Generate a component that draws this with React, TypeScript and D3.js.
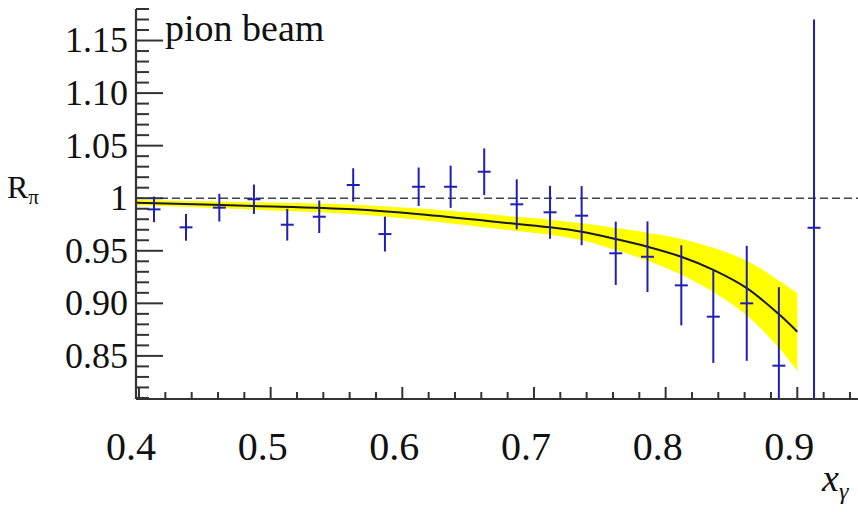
import React, { useEffect, useRef } from "react";
import * as d3 from "d3";

// measured points (x_gamma, R_pi, stat error)
const xVals = [0.4114, 0.4357, 0.461, 0.4873, 0.5126, 0.5369, 0.5627, 0.5868, 0.6124, 0.6367, 0.6622, 0.6869, 0.7122, 0.7362, 0.7621, 0.7862, 0.8119, 0.8362, 0.8616, 0.886, 0.9127];
const rVals = [0.9894, 0.9723, 0.991, 0.999, 0.9748, 0.9824, 1.0126, 0.9659, 1.0109, 1.0109, 1.0252, 0.9942, 0.9866, 0.9834, 0.9476, 0.9443, 0.9171, 0.8873, 0.9, 0.8407, 0.9719];
const rErrs = [0.0122, 0.0127, 0.0132, 0.014, 0.0151, 0.0155, 0.0159, 0.0166, 0.0183, 0.0201, 0.0222, 0.0238, 0.0252, 0.0281, 0.0301, 0.0336, 0.0381, 0.044, 0.0547, 0.0746, 0.1982];

// fit curve and its uncertainty band
const fitX = [0.3977, 0.4873, 0.5625, 0.6134, 0.6869, 0.7122, 0.7362, 0.7621, 0.7862, 0.8119, 0.8362, 0.8616, 0.8859, 0.9];
const fitY = [0.9957, 0.9926, 0.9894, 0.9847, 0.9755, 0.9723, 0.9681, 0.9612, 0.9539, 0.9443, 0.9318, 0.9145, 0.8898, 0.873];
const fitErr = [0.0025, 0.0035, 0.0045, 0.0055, 0.0068, 0.0072, 0.008, 0.0104, 0.0133, 0.017, 0.021, 0.026, 0.032, 0.037];

const yTicks = [0.85, 0.9, 0.95, 1, 1.05, 1.1, 1.15];
const yTickLabels = ["0.85", "0.90", "0.95", "1", "1.05", "1.10", "1.15"];
const xTicks = [0.4, 0.5, 0.6, 0.7, 0.8, 0.9];
const xTickLabels = ["0.4", "0.5", "0.6", "0.7", "0.8", "0.9"];

const W = 858;
const H = 512;
const FONT = "Liberation Serif, Times New Roman, Times, DejaVu Serif, Noto Serif, serif";

export default function App() {
  const svgRef = useRef<SVGSVGElement>(null);

  useEffect(() => {
    const svg = d3.select(svgRef.current);
    svg.selectAll("*").remove();

    const x = d3.scaleLinear().domain([0.4, 0.9]).range([139, 797.3]);
    const y = d3.scaleLinear().domain([0.809, 1.18]).range([399, 9]);
    const left = 136;
    const bottom = 399;
    const axisColor = "#333";

    svg.append("defs")
      .append("clipPath")
      .attr("id", "plotclip")
      .append("rect")
      .attr("x", left)
      .attr("y", y(1.18))
      .attr("width", W - left)
      .attr("height", bottom - y(1.18));

    const plot = svg.append("g").attr("clip-path", "url(#plotclip)");

    const fit = fitX.map((fx, i) => ({ x: fx, y: fitY[i], e: fitErr[i] }));

    const band = d3
      .area<{ x: number; y: number; e: number }>()
      .x((d) => x(d.x))
      .y0((d) => y(d.y - d.e))
      .y1((d) => y(d.y + d.e))
      .curve(d3.curveCatmullRom);

    plot.append("path").attr("d", band(fit)).attr("fill", "#ffff00");

    const line = d3
      .line<{ x: number; y: number }>()
      .x((d) => x(d.x))
      .y((d) => y(d.y))
      .curve(d3.curveCatmullRom);

    plot.append("path")
      .attr("d", line(fit))
      .attr("fill", "none")
      .attr("stroke", "#1a1a1a")
      .attr("stroke-width", 2);

    // reference line at 1
    plot.append("line")
      .attr("x1", left)
      .attr("x2", W)
      .attr("y1", y(1))
      .attr("y2", y(1))
      .attr("stroke", "#444")
      .attr("stroke-width", 1.6)
      .attr("stroke-dasharray", "8,4");

    // data crosses
    const pts = plot.selectAll(".pt")
      .data(xVals.map((xv, i) => ({ x: xv, y: rVals[i], e: rErrs[i] })))
      .enter()
      .append("g");

    pts.append("line")
      .attr("x1", (d) => x(d.x))
      .attr("x2", (d) => x(d.x))
      .attr("y1", (d) => y(d.y - d.e))
      .attr("y2", (d) => y(d.y + d.e))
      .attr("stroke", "#1f1fb4")
      .attr("stroke-width", 2);

    pts.append("line")
      .attr("x1", (d) => x(d.x) - 6.5)
      .attr("x2", (d) => x(d.x) + 6.5)
      .attr("y1", (d) => y(d.y))
      .attr("y2", (d) => y(d.y))
      .attr("stroke", "#1f1fb4")
      .attr("stroke-width", 2);

    // axes
    const axes = svg.append("g").attr("stroke", axisColor);
    axes.append("line")
      .attr("x1", left).attr("x2", left)
      .attr("y1", y(1.18)).attr("y2", bottom)
      .attr("stroke-width", 2.2);
    axes.append("line")
      .attr("x1", left).attr("x2", W)
      .attr("y1", bottom).attr("y2", bottom)
      .attr("stroke-width", 2.2);

    const yMinor = d3.range(81, 119).map((v) => v / 100);
    axes.selectAll(".ymin")
      .data(yMinor)
      .enter()
      .append("line")
      .attr("x1", left)
      .attr("x2", (d) => left + (yTicks.some((t) => Math.abs(t - d) < 1e-6) ? 27 : 13))
      .attr("y1", (d) => y(d))
      .attr("y2", (d) => y(d))
      .attr("stroke-width", 2);

    const xMinor = d3.range(20, 48).map((v) => v / 50);
    axes.selectAll(".xmin")
      .data(xMinor)
      .enter()
      .append("line")
      .attr("x1", (d) => x(d))
      .attr("x2", (d) => x(d))
      .attr("y1", bottom)
      .attr("y2", (d) => bottom - (xTicks.some((t) => Math.abs(t - d) < 1e-6) ? 12 : 7))
      .attr("stroke-width", 2);

    // tick labels
    svg.selectAll(".ylab")
      .data(yTicks)
      .enter()
      .append("text")
      .attr("x", 128)
      .attr("y", (d) => y(d))
      .attr("dy", "0.33em")
      .attr("text-anchor", "end")
      .attr("font-family", FONT)
      .attr("font-size", 36)
      .attr("fill", "#111")
      .text((d, i) => yTickLabels[i]);

    svg.selectAll(".xlab")
      .data(xTicks)
      .enter()
      .append("text")
      .attr("x", (d) => x(d) - 8)
      .attr("y", 460)
      .attr("text-anchor", "middle")
      .attr("font-family", FONT)
      .attr("font-size", 40)
      .attr("fill", "#111")
      .text((d, i) => xTickLabels[i]);

    // titles
    svg.append("text")
      .attr("x", 165)
      .attr("y", 41)
      .attr("font-family", FONT)
      .attr("font-size", 38)
      .attr("fill", "#111")
      .text("pion beam");

    const rt = svg.append("text")
      .attr("x", 7)
      .attr("y", 198)
      .attr("font-family", FONT)
      .attr("font-size", 32)
      .attr("fill", "#111");
    rt.append("tspan").text("R");
    rt.append("tspan").attr("dy", 6).attr("font-size", 21).text("π");

    const xt = svg.append("text")
      .attr("x", 822)
      .attr("y", 491)
      .attr("font-family", FONT)
      .attr("font-size", 38)
      .attr("font-style", "italic")
      .attr("fill", "#111");
    xt.append("tspan").text("x");
    xt.append("tspan").attr("dy", 8).attr("font-size", 24).text("γ");
  }, []);

  return (
    <div style={{ position: "absolute", left: 0, top: 0, width: W, height: H }}>
      <svg ref={svgRef} width={W} height={H} style={{ display: "block", background: "#fff" }}></svg>
    </div>
  );
}
